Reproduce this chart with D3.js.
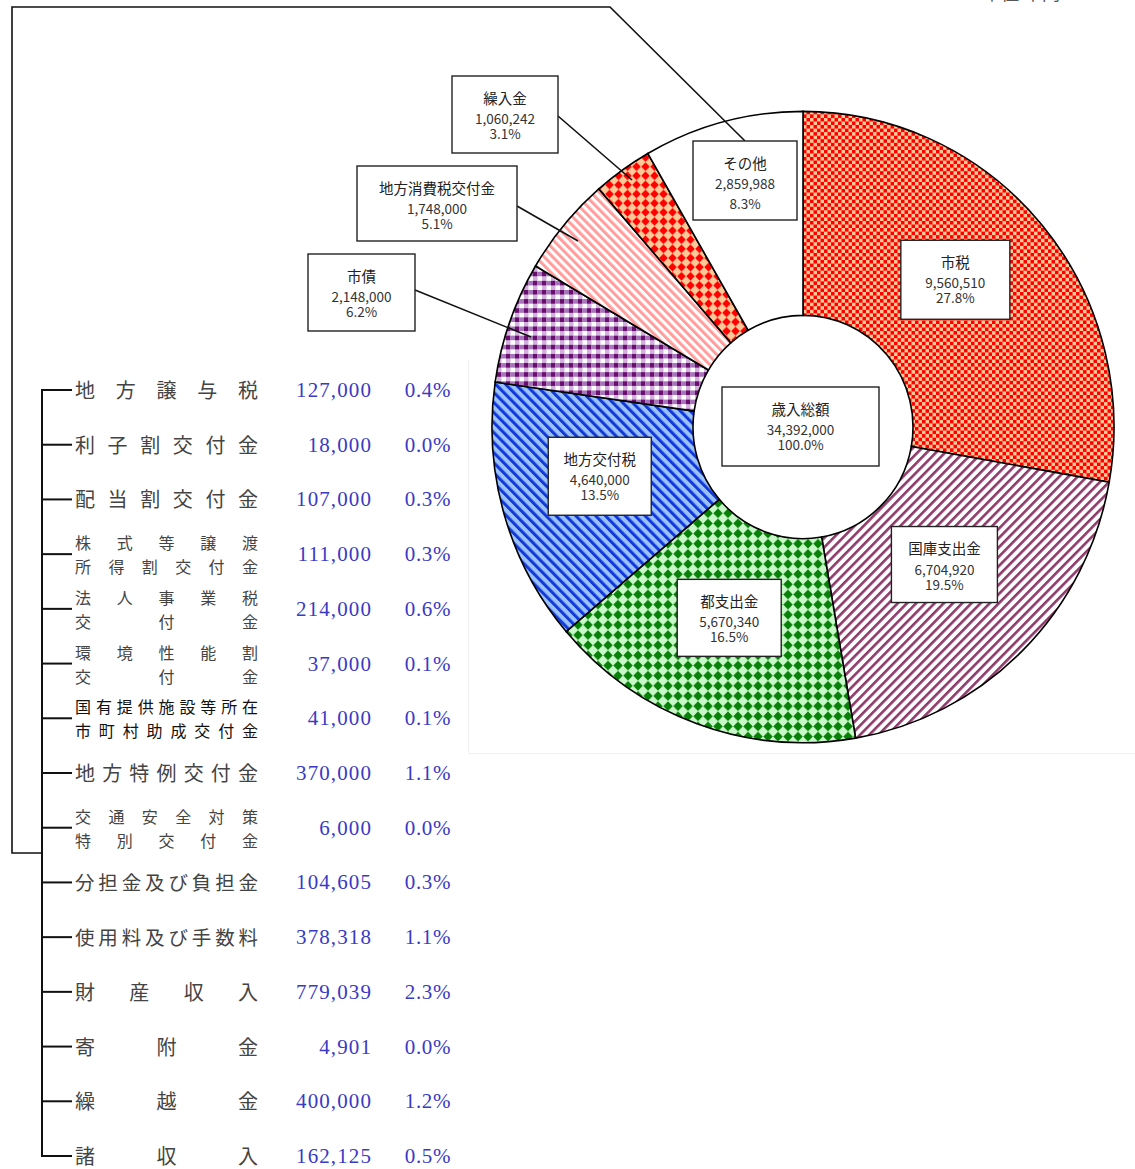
<!DOCTYPE html>
<html>
<head>
<meta charset="utf-8">
<script src="https://cdn.jsdelivr.net/npm/d3@7/dist/d3.min.js"></script>
<style>
  body { margin: 0; background: #fff; }
  svg { display: block; }
</style>
</head>
<body>
<div id="chart"></div>
<script>
// Revenue breakdown donut (単位:千円)

// Main slices, clockwise from 12 o'clock
const mainNames = ['市税', '国庫支出金', '都支出金', '地方交付税', '市債', '地方消費税交付金', '繰入金', 'その他']
const mainValues = [9560510, 6704920, 5670340, 4640000, 2148000, 1748000, 1060242, 2859988]
const totalName = '歳入総額'
const totalValue = 34392000

// Breakdown of その他 (each name line is a list entry)
const subNames = [
  ['地方譲与税'], ['利子割交付金'], ['配当割交付金'], ['株式等譲渡', '所得割交付金'],
  ['法人事業税', '交付金'], ['環境性能割', '交付金'], ['国有提供施設等所在', '市町村助成交付金'],
  ['地方特例交付金'], ['交通安全対策', '特別交付金'], ['分担金及び負担金'], ['使用料及び手数料'],
  ['財産収入'], ['寄附金'], ['繰越金'], ['諸収入']
]
const subValues = [127000, 18000, 107000, 111000, 214000, 37000, 41000, 370000, 6000, 104605, 378318, 779039, 4901, 400000, 162125]
const subPcts = ['0.4%', '0.0%', '0.3%', '0.3%', '0.6%', '0.1%', '0.1%', '1.1%', '0.0%', '0.3%', '1.1%', '2.3%', '0.0%', '1.2%', '0.5%']

const width = 1135
const height = 1169
const jp = '"Noto Sans CJK JP", "Noto Sans", sans-serif'
const fmt = d3.format(',')
const pctFmt = d => d3.format('.1f')(d * 100) + '%'

const svg = d3.select('#chart')
  .append('svg')
  .attr('width', width)
  .attr('height', height)

// ---- patterns ----
const defs = svg.append('defs')

function checker (id, size, bg, fg) {
  const p = defs.append('pattern').attr('id', id).attr('patternUnits', 'userSpaceOnUse')
    .attr('width', size * 2).attr('height', size * 2)
  p.append('rect').attr('width', size * 2).attr('height', size * 2).attr('fill', bg)
  p.append('rect').attr('width', size).attr('height', size).attr('fill', fg)
  p.append('rect').attr('x', size).attr('y', size).attr('width', size).attr('height', size).attr('fill', fg)
}
function stripes (id, period, line, bg, fg, angle) {
  const p = defs.append('pattern').attr('id', id).attr('patternUnits', 'userSpaceOnUse')
    .attr('width', period).attr('height', period)
    .attr('patternTransform', `rotate(${angle})`)
  p.append('rect').attr('width', period).attr('height', period).attr('fill', bg)
  p.append('rect').attr('width', line).attr('height', period).attr('fill', fg)
}
function diamonds (id, size, bg, fg, k) {
  const p = defs.append('pattern').attr('id', id).attr('patternUnits', 'userSpaceOnUse')
    .attr('width', size).attr('height', size)
  p.append('rect').attr('width', size).attr('height', size).attr('fill', bg)
  const h = size / 2, r = h * k
  p.append('polygon').attr('points', `${h},${h - r} ${h + r},${h} ${h},${h + r} ${h - r},${h}`).attr('fill', fg)
}
function plaid (id, s) {
  const p = defs.append('pattern').attr('id', id).attr('patternUnits', 'userSpaceOnUse')
    .attr('width', s * 2).attr('height', s * 2)
  p.append('rect').attr('width', s * 2).attr('height', s * 2).attr('fill', '#fff')
  p.append('rect').attr('width', s).attr('height', s).attr('fill', '#6b0f6f')
  p.append('rect').attr('x', s).attr('width', s).attr('height', s).attr('fill', '#a874bd')
  p.append('rect').attr('y', s).attr('width', s).attr('height', s).attr('fill', '#d2b0dd')
}

checker('pCityTax', 3.5, '#ffc896', '#ff0000')
stripes('pNational', 6.5, 2.6, '#ffffff', '#8e3a6a', 45)
diamonds('pTokyo', 10, '#c8f8c8', '#068006', 0.95)
stripes('pLocalTax', 7, 3, '#99c2ff', '#1238d8', -45)
plaid('pBond', 4.5)
stripes('pConsume', 6, 3, '#ffffff', '#ff9d9d', -45)
diamonds('pTransfer', 9, '#ffc896', '#ff0000', 0.95)

const fills = ['url(#pCityTax)', 'url(#pNational)', 'url(#pTokyo)', 'url(#pLocalTax)',
  'url(#pBond)', 'url(#pConsume)', 'url(#pTransfer)', '#ffffff']

// faint plot area edge
svg.append('path')
  .attr('d', 'M468.5,360 V753.5 H1135')
  .attr('fill', 'none')
  .attr('stroke', '#f1f1f1')

// ---- donut ----
const cx = 803, cy = 427
const rOuter = 311, rInner = 110, squash = 1.015

const pie = d3.pie().sort(null).value(d => d)
const arcs = pie(mainValues)
const arc = d3.arc().innerRadius(rInner).outerRadius(rOuter)

const donut = svg.append('g')
  .attr('transform', `translate(${cx},${cy}) scale(1,${squash})`)

donut.selectAll('path')
  .data(arcs)
  .enter().append('path')
  .attr('d', arc)
  .attr('fill', (d, i) => fills[i])
  .attr('stroke', '#000')
  .attr('stroke-width', 1.6)
  .attr('vector-effect', 'non-scaling-stroke')

// ---- label boxes ----
// inner labels sit near the slice centroid, outer ones are placed beside the ring
const outerBoxes = {
  4: { x: 308, y: 254, w: 107, h: 77, lead: [[415, 290], [531, 337]] },
  5: { x: 357, y: 166, w: 160, h: 75, lead: [[517, 206], [578, 241]] },
  6: { x: 452, y: 76, w: 106, h: 77, lead: [[558, 116], [632, 180]] },
  7: { x: 693, y: 141, w: 104, h: 79, lead: [[745, 141], [610, 7], [12, 7], [12, 853], [42, 853]], gap: true }
}
const innerSize = [[109, 79], [106, 76], [104, 77], [103, 78]]
const innerNudge = [[-9, 0], [-7, -4], [-2, 0], [-1, 0]]

const boxes = arcs.map((d, i) => {
  let b
  if (outerBoxes[i]) {
    b = outerBoxes[i]
  } else {
    const c = arc.centroid(d)
    const w = innerSize[i][0], h = innerSize[i][1]
    const bx = cx + c[0] + innerNudge[i][0]
    const by = cy + c[1] * squash - 10 + innerNudge[i][1]
    b = { x: bx - w / 2, y: by - h / 2, w: w, h: h }
  }
  return Object.assign({ name: mainNames[i], value: d.value, pct: d.value / totalValue }, b)
})
boxes.push({ name: totalName, value: totalValue, pct: 1, x: 722, y: 387, w: 157, h: 79 })

// leader lines first so boxes cover them
const line = d3.line()
svg.selectAll('path.lead')
  .data(boxes.filter(b => b.lead))
  .enter().append('path')
  .attr('class', 'lead')
  .attr('d', b => line(b.lead))
  .attr('fill', 'none')
  .attr('stroke', '#111')
  .attr('stroke-width', 1.6)

const lbl = svg.selectAll('g.lbl')
  .data(boxes)
  .enter().append('g')
  .attr('class', 'lbl')
  .attr('transform', b => `translate(${b.x},${b.y})`)

lbl.append('rect')
  .attr('width', b => b.w)
  .attr('height', b => b.h)
  .attr('fill', '#fff')
  .attr('stroke', '#222')
  .attr('stroke-width', 1.4)

lbl.append('text')
  .attr('x', b => b.w / 2)
  .attr('y', 21)
  .attr('text-anchor', 'middle')
  .attr('dominant-baseline', 'central')
  .attr('font-family', jp)
  .attr('font-size', 14.5)
  .attr('fill', '#222')
  .text(b => b.name)

lbl.append('text')
  .attr('x', b => b.w / 2)
  .attr('y', 42)
  .attr('text-anchor', 'middle')
  .attr('dominant-baseline', 'central')
  .attr('font-family', jp)
  .attr('font-size', 13.5)
  .attr('fill', '#333')
  .text(b => fmt(b.value))

lbl.append('text')
  .attr('x', b => b.w / 2)
  .attr('y', b => b.gap ? 62 : 57)
  .attr('text-anchor', 'middle')
  .attr('dominant-baseline', 'central')
  .attr('font-family', jp)
  .attr('font-size', 13.5)
  .attr('fill', '#333')
  .text(b => pctFmt(b.pct))

// ---- その他 breakdown list ----
const rowY = d3.scalePoint()
  .domain(d3.range(subNames.length))
  .range([390, 1156])

const bracketX = 42, tickX = 72, nameX0 = 75, nameX1 = 258

svg.append('line')
  .attr('x1', bracketX).attr('x2', bracketX)
  .attr('y1', rowY(0)).attr('y2', rowY(subNames.length - 1))
  .attr('stroke', '#111').attr('stroke-width', 2)

const rows = svg.selectAll('g.row')
  .data(subNames.map((n, i) => ({ lines: n, value: subValues[i], pct: subPcts[i], i: i })))
  .enter().append('g')
  .attr('class', 'row')
  .attr('transform', d => `translate(0,${rowY(d.i)})`)

rows.append('line')
  .attr('x1', bracketX - 1).attr('x2', tickX)
  .attr('stroke', '#111').attr('stroke-width', 2)

// names are spread over a fixed width, one tspan per character
const nameText = rows.append('text')
  .attr('font-family', jp)
  .attr('fill', d => d.i === 6 ? '#111' : '#444')
  .attr('dominant-baseline', 'central')

nameText.each(function (d) {
  const two = d.lines.length > 1
  const fs = two ? 16 : (d.lines[0].length >= 8 ? 19.5 : 20)
  const t = d3.select(this).attr('font-size', fs)
  d.lines.forEach((s, li) => {
    const chars = Array.from(s)
    const step = chars.length > 1 ? (nameX1 - nameX0 - fs) / (chars.length - 1) : 0
    const y = two ? (li === 0 ? -12 : 12) : -1
    chars.forEach((ch, ci) => {
      t.append('tspan')
        .attr('x', nameX0 + ci * step)
        .attr('y', y)
        .text(ch)
    })
  })
})

rows.append('text')
  .attr('x', 372)
  .attr('text-anchor', 'end')
  .attr('dominant-baseline', 'central')
  .attr('font-family', '"Liberation Serif", serif')
  .attr('font-size', 21)
  .attr('letter-spacing', 1.1)
  .attr('fill', '#3a3ac4')
  .text(d => fmt(d.value))

rows.append('text')
  .attr('x', 451)
  .attr('text-anchor', 'end')
  .attr('dominant-baseline', 'central')
  .attr('font-family', '"Liberation Serif", serif')
  .attr('font-size', 21)
  .attr('letter-spacing', 0.6)
  .attr('fill', '#3a3ac4')
  .text(d => d.pct)

// unit note, mostly cut off at the top edge
svg.append('text')
  .attr('x', 1060)
  .attr('y', 0)
  .attr('text-anchor', 'end')
  .attr('font-family', jp)
  .attr('font-size', 18)
  .attr('fill', '#555')
  .text('単位:千円')
</script>
</body>
</html>
